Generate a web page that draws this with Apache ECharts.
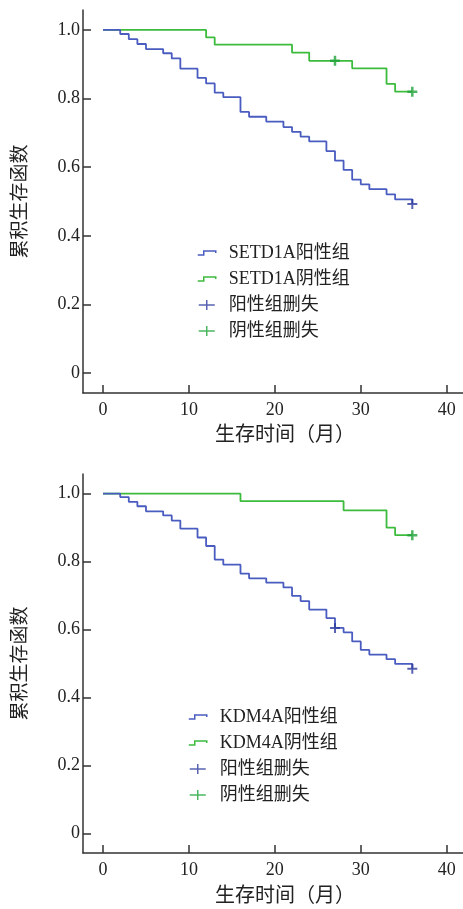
<!DOCTYPE html>
<html>
<head>
<meta charset="utf-8">
<script src="https://cdn.jsdelivr.net/npm/echarts@6/dist/echarts.min.js"></script>
<style>
  html, body { margin: 0; padding: 0; background: #fff; }
  #top { position: absolute; left: 0; top: 0; width: 463px; height: 464px; }
  #bottom { position: absolute; left: 0; top: 464px; width: 463px; height: 445px; }
</style>
</head>
<body>
<div id="top"></div>
<div id="bottom"></div>
<script>
// 上图 SETD1A
const setdPosMonths = [0, 2, 3, 4, 5, 7, 8, 9, 11, 12, 13, 14, 16, 17, 19, 21, 22, 23, 24, 26, 27, 28, 29, 30, 31, 33, 34, 36];
const setdPosSurv = [1, 0.988, 0.973, 0.959, 0.944, 0.932, 0.917, 0.887, 0.860, 0.844, 0.817, 0.804, 0.761, 0.747, 0.733, 0.717, 0.703, 0.689, 0.675, 0.647, 0.619, 0.592, 0.564, 0.550, 0.536, 0.521, 0.506, 0.493];
const setdNegMonths = [0, 12, 13, 22, 24, 29, 33, 34, 36];
const setdNegSurv = [1, 0.978, 0.957, 0.934, 0.910, 0.888, 0.843, 0.820, 0.820];
const setdPosCensor = [[36, 0.493]];
const setdNegCensor = [[27, 0.910], [36, 0.820]];

// 下图 KDM4A
const kdmPosMonths = [0, 2, 3, 4, 5, 7, 8, 9, 11, 12, 13, 14, 16, 17, 19, 21, 22, 23, 24, 26, 27, 28, 29, 30, 31, 33, 34, 36];
const kdmPosSurv = [1, 0.990, 0.976, 0.963, 0.948, 0.936, 0.921, 0.897, 0.871, 0.846, 0.806, 0.791, 0.765, 0.751, 0.738, 0.724, 0.699, 0.684, 0.659, 0.634, 0.605, 0.592, 0.565, 0.540, 0.526, 0.513, 0.499, 0.485];
const kdmNegMonths = [0, 16, 28, 33, 34, 36];
const kdmNegSurv = [1, 0.978, 0.951, 0.900, 0.878, 0.878];
const kdmPosCensor = [[27, 0.605], [36, 0.485]];
const kdmNegCensor = [[36, 0.878]];

const xTicks = [0, 10, 20, 30, 40];
const yTicks = [0, 0.2, 0.4, 0.6, 0.8, 1.0];

const BLUE = "#4a5cc0";
const GREEN = "#3dbb3d";
const BLUE_MARK = "#2d3c9e";
const GREEN_MARK = "#1fa33a";
const FONT = "'Liberation Serif', 'Noto Sans CJK SC', serif";

// 图例图标（左侧 18px 内画形状，右侧留空）
const stepIcon = "path://M0,0M26,12M0,8L6,8L6,4L18,4L18,6";
const crossIcon = "path://M0,0M26,12M1,6L17,6M9,1L9,11";
const crossSymbol = "path://M0,6L12,6M6,0L6,12";

function zip(xs, ys) {
  return xs.map((x, i) => [x, ys[i]]);
}

function makeOption(gene, posM, posS, negM, negS, posC, negC, legendLeft) {
  const posName = gene + "阳性组";
  const negName = gene + "阴性组";
  return {
    animation: false,
    grid: { left: 83, right: 0, top: 10, height: 383 },
    legend: {
      orient: "vertical",
      left: legendLeft,
      top: 239,
      itemWidth: 26,
      itemHeight: 12,
      itemGap: 8,
      textStyle: { fontSize: 18, color: "#222", fontFamily: FONT },
      data: [
        { name: posName, icon: stepIcon, itemStyle: { color: "rgba(0,0,0,0)", borderColor: BLUE, borderWidth: 1.5 } },
        { name: negName, icon: stepIcon, itemStyle: { color: "rgba(0,0,0,0)", borderColor: GREEN, borderWidth: 1.5 } },
        { name: "阳性组删失", icon: crossIcon, itemStyle: { color: "rgba(0,0,0,0)", borderColor: BLUE_MARK, borderWidth: 1.5 } },
        { name: "阴性组删失", icon: crossIcon, itemStyle: { color: "rgba(0,0,0,0)", borderColor: GREEN_MARK, borderWidth: 1.5 } },
      ],
    },
    xAxis: {
      type: "value",
      min: -2.33,
      max: 41.9,
      name: "生存时间（月）",
      nameLocation: "middle",
      nameGap: 30,
      nameTextStyle: { fontSize: 20, color: "#222", fontFamily: "'Noto Sans CJK SC'", padding: [0, 0, 0, 24] },
      axisLine: { onZero: false, lineStyle: { color: "#333", width: 1.5 } },
      axisTick: { inside: true, length: 8, lineStyle: { color: "#333", width: 1.5 }, customValues: xTicks },
      axisLabel: { fontSize: 18, color: "#222", fontFamily: FONT, margin: 8, customValues: xTicks },
      splitLine: { show: false },
    },
    yAxis: {
      type: "value",
      min: -0.058,
      max: 1.058,
      name: "累积生存函数",
      nameLocation: "middle",
      nameRotate: 90,
      nameGap: 55,
      nameTextStyle: { fontSize: 19, color: "#222", fontFamily: "'Noto Sans CJK SC'" },
      axisLine: { show: true, onZero: false, lineStyle: { color: "#333", width: 1.5 } },
      axisTick: { show: true, inside: true, length: 8, lineStyle: { color: "#333", width: 1.5 }, customValues: yTicks },
      axisLabel: {
        fontSize: 18,
        color: "#222",
        fontFamily: FONT,
        margin: 3,
        customValues: yTicks,
        formatter: (v) => (v === 0 ? "0" : v.toFixed(1)),
      },
      splitLine: { show: false },
    },
    series: [
      {
        name: negName,
        type: "line",
        step: "end",
        symbol: "none",
        lineStyle: { color: GREEN, width: 1.8 },
        itemStyle: { color: GREEN },
        data: zip(negM, negS),
        z: 2,
      },
      {
        name: posName,
        type: "line",
        step: "end",
        symbol: "none",
        lineStyle: { color: BLUE, width: 1.8 },
        itemStyle: { color: BLUE },
        data: zip(posM, posS),
        z: 3,
      },
      {
        name: "阳性组删失",
        type: "scatter",
        symbol: crossSymbol,
        symbolSize: 10,
        itemStyle: { color: "rgba(0,0,0,0)", borderColor: BLUE_MARK, borderWidth: 2 },
        data: posC,
        z: 4,
      },
      {
        name: "阴性组删失",
        type: "scatter",
        symbol: crossSymbol,
        symbolSize: 10,
        itemStyle: { color: "rgba(0,0,0,0)", borderColor: GREEN_MARK, borderWidth: 2.5 },
        data: negC,
        z: 4,
      },
    ],
  };
}

const topChart = echarts.init(document.getElementById("top"));
topChart.setOption(makeOption("SETD1A", setdPosMonths, setdPosSurv, setdNegMonths, setdNegSurv, setdPosCensor, setdNegCensor, 192));

const bottomChart = echarts.init(document.getElementById("bottom"));
bottomChart.setOption(makeOption("KDM4A", kdmPosMonths, kdmPosSurv, kdmNegMonths, kdmNegSurv, kdmPosCensor, kdmNegCensor, 183));

window.addEventListener("resize", function () {
  topChart.resize();
  bottomChart.resize();
});
</script>
</body>
</html>
